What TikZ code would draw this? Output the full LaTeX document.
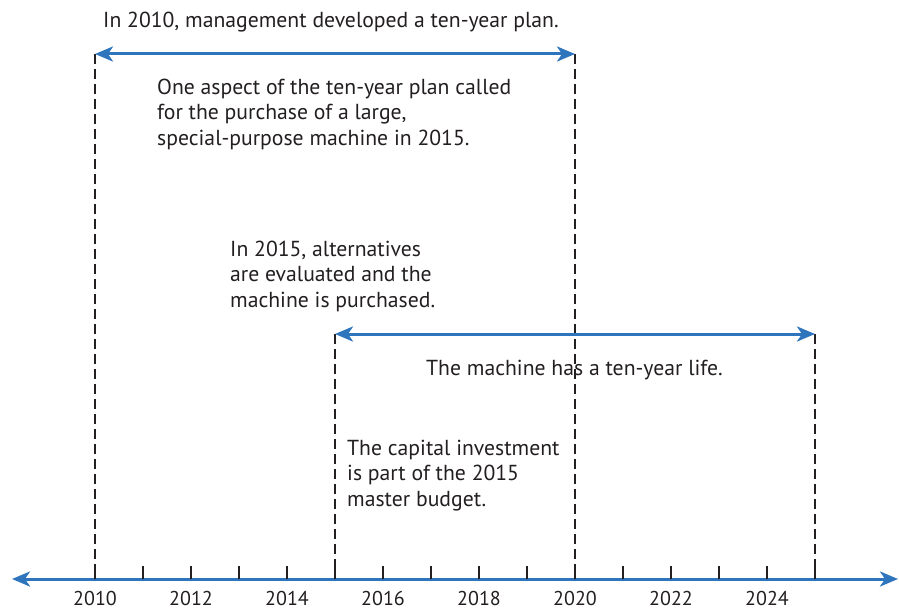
\documentclass[tikz,border=0pt]{standalone}
\usepackage{fontspec}
\setmainfont{PT Sans}
\usetikzlibrary{arrows.meta,calc}
\definecolor{axisblue}{RGB}{46,117,189}
\definecolor{txt}{RGB}{35,31,32}
\tikzset{
  blue arrow/.style={draw=axisblue, line width=3pt,
    {Stealth[length=18pt,width=15pt,inset=5pt]}-{Stealth[length=18pt,width=15pt,inset=5pt]}},
  guide/.style={draw=txt, line width=1.5pt, dash pattern=on 10pt off 5pt},
  tickmark/.style={draw=txt, line width=1.5pt},
  lbl/.style={text=txt, font=\fontsize{21.7}{25.3}\selectfont, inner sep=0pt, align=left, anchor=base west},
  yearlbl/.style={text=txt, font=\fontsize{20}{25}\selectfont, inner sep=0pt, anchor=base},
}
\begin{document}
\begin{tikzpicture}[x=1pt,y=1pt]
\useasboundingbox (0,0) rectangle (899,-610);
% axis
\coordinate (axL) at (12,-579);
\coordinate (axR) at (898,-579);
\draw[blue arrow] (axL) -- (axR);
% ticks and labels
\foreach \yr in {0,...,15} {
  \pgfmathsetmacro{\xx}{95+48*\yr}
  \coordinate (t\yr) at (\xx,-579);
  \coordinate (tt\yr) at (\xx,-566);
  \draw[tickmark] (t\yr) -- (tt\yr);
}
\foreach \yr in {0,2,...,14} {
  \pgfmathtruncatemacro{\lab}{2010+\yr}
  \node[yearlbl] (lab\yr) at ($(t\yr)+(0,-26)$) {\lab};
}
% guides
\coordinate (g2010) at (95,-54);
\coordinate (g2020) at (575,-54);
\coordinate (g2015) at (335,-334);
\coordinate (g2025) at (815,-334);
\draw[guide] (g2010) -- (t0);
\draw[guide] (g2020) -- (t10);
\draw[guide] (g2015) -- (t5);
\draw[guide] (g2025) -- (t15);
% range arrows
\draw[blue arrow] (g2010) -- (g2020);
\draw[blue arrow] (g2015) -- (g2025);
% texts (base = baseline of last line)
\node[lbl] (plan) at (103,-28) {In 2010, management developed a ten-year plan.};
\node[lbl] (aspect) at (157,-145) {One aspect of the ten-year plan called\\for the purchase of a large,\\special-purpose machine in 2015.};
\node[lbl] (alt) at (230,-307) {In 2015, alternatives\\are evaluated and the\\machine is purchased.};
\node[lbl] (life) at (426,-375) {The machine has a ten-year life.};
\node[lbl] (capital) at (347,-506) {The capital investment\\is part of the 2015\\master budget.};
\end{tikzpicture}
\end{document}
